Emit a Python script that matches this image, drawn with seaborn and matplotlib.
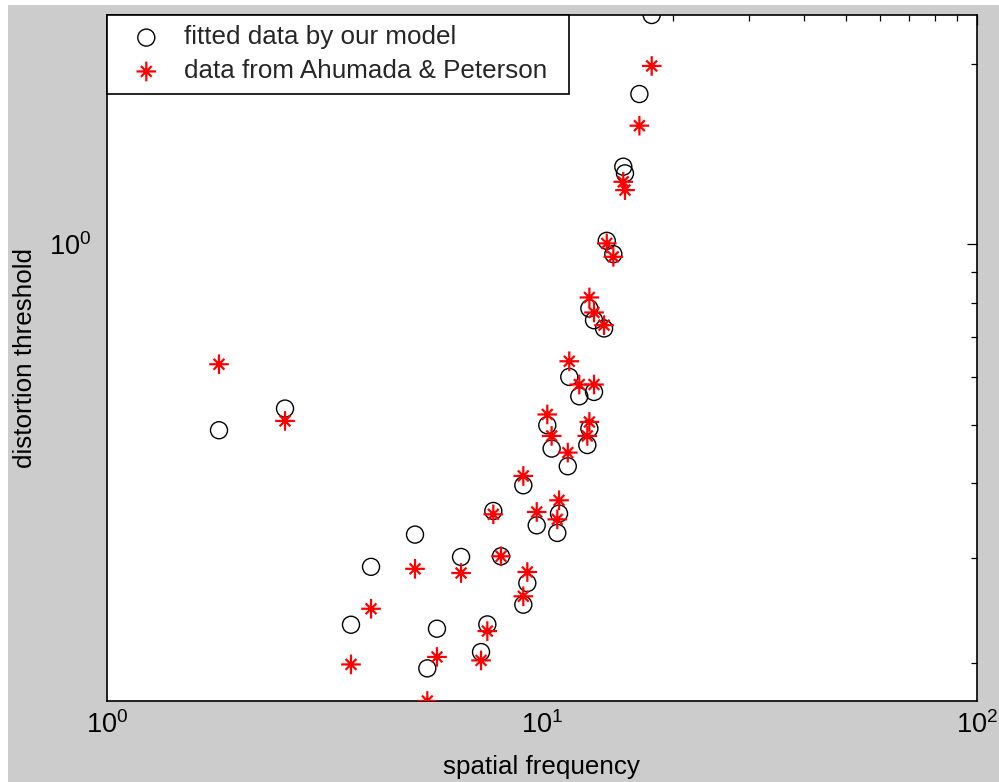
import matplotlib
matplotlib.use("Agg")
import matplotlib.pyplot as plt
from matplotlib.path import Path
from matplotlib.patches import Rectangle
from matplotlib.ticker import LogLocator, NullFormatter, LogFormatterSciNotation
import pandas as pd
import seaborn as sns

# spatial frequency of each test condition
freq = [1.812, 2.570, 3.644, 4.052, 5.114, 5.458, 5.744, 6.525, 7.253, 7.499,
        7.740, 8.061, 9.072, 9.072, 9.267, 9.739, 10.30, 10.54, 10.86, 10.96,
        11.48, 11.57, 12.20, 12.73, 12.87, 12.87, 13.19, 13.19, 13.91, 14.11,
        14.61, 15.40, 15.54, 16.77, 17.90]

# thresholds predicted by the model
model = [0.4898, 0.5323, 0.2320, 0.2898, 0.3280, 0.1962, 0.2285, 0.3010, 0.2089, 0.2323,
         0.3592, 0.3018, 0.3964, 0.2506, 0.2723, 0.3399, 0.4993, 0.4565, 0.3301, 0.3556,
         0.4265, 0.6011, 0.5580, 0.4627, 0.4930, 0.7820, 0.5674, 0.7474, 0.7241, 1.014,
         0.9634, 1.348, 1.314, 1.782, 2.414]

# measured thresholds (Ahumada & Peterson)
measured = [0.6311, 0.5076, 0.1992, 0.2467, 0.2876, 0.1731, 0.2050, 0.2830, 0.2023, 0.2264,
            0.3546, 0.3018, 0.4109, 0.2588, 0.2841, 0.3578, 0.5204, 0.4792, 0.3478, 0.3742,
            0.4495, 0.6384, 0.5838, 0.4792, 0.5056, 0.8157, 0.5838, 0.7700, 0.7333, 1.004,
            0.9535, 1.272, 1.232, 1.578, 1.985]

labels = ["fitted data by our model", "data from Ahumada & Peterson"]

df = pd.DataFrame({"freq": freq, "model": model, "measured": measured})

FS = 18.7

sns.set_style("white")
plt.rcParams["font.family"] = ["Liberation Sans", "DejaVu Sans"]
plt.rcParams["mathtext.default"] = "regular"

fig = plt.figure(figsize=(9.99, 7.82), dpi=100, facecolor="white")
fig.patches.append(Rectangle((8 / 999, 0), 1 - 8 / 999, 1 - 5 / 782,
                             transform=fig.transFigure, facecolor="#cccccc",
                             edgecolor="none", zorder=-10))
ax = fig.add_axes([0.1068, 0.1036, 0.8709, 0.8772])
ax.set_facecolor("white")

# asterisk marker made of a long plus and short diagonal strokes
d = 0.55
star = Path([(-1, 0), (1, 0), (0, -1), (0, 1), (-d, -d), (d, d), (-d, d), (d, -d)],
            [Path.MOVETO, Path.LINETO] * 4)

sns.scatterplot(data=df, x="freq", y="model", ax=ax, marker="o", s=150,
                color="black", facecolor="none", edgecolor="black",
                linewidth=1.0, label=labels[0], zorder=3)
sns.scatterplot(data=df, x="freq", y="measured", ax=ax, marker=star, s=200,
                color="red", facecolor="none", edgecolor="red",
                linewidth=1.6, label=labels[1], zorder=4)

ax.set_xscale("log")
ax.set_yscale("log")
ax.set_xlim(1, 100)
ax.set_ylim(min(min(model), min(measured)), max(max(model), max(measured)))

for axis in (ax.xaxis, ax.yaxis):
    axis.set_major_locator(LogLocator(base=10))
    axis.set_minor_locator(LogLocator(base=10, subs=range(2, 10)))
    axis.set_major_formatter(LogFormatterSciNotation())
    axis.set_minor_formatter(NullFormatter())

ax.tick_params(which="both", direction="in", top=True, right=True,
               colors="black", width=0.9, labelsize=19.5)
ax.tick_params(which="major", length=7.2)
ax.tick_params(which="minor", length=4.3)
ax.tick_params(axis="x", pad=7)
ax.tick_params(axis="y", pad=11)

for sp in ax.spines.values():
    sp.set_color("black")
    sp.set_linewidth(1.2)
    sp.set_visible(True)

ax.set_xlabel("spatial frequency", fontsize=FS, color="black")
ax.set_ylabel("distortion threshold", fontsize=FS, color="black")
ax.xaxis.set_label_coords(0.5, -0.079)
ax.yaxis.set_label_coords(-0.080, 0.5)

leg = ax.legend(loc="upper left", bbox_to_anchor=(0, 1, 0.531, 0), mode="expand",
                borderaxespad=0, fontsize=FS, frameon=True, fancybox=False,
                framealpha=1, edgecolor="black", borderpad=0.4, labelspacing=0.38,
                handletextpad=0.34, handlelength=2.25, scatterpoints=1)
leg.get_frame().set_linewidth(1.2)
leg.set_zorder(10)

fig.savefig("out.png", dpi=100, facecolor=fig.get_facecolor())
